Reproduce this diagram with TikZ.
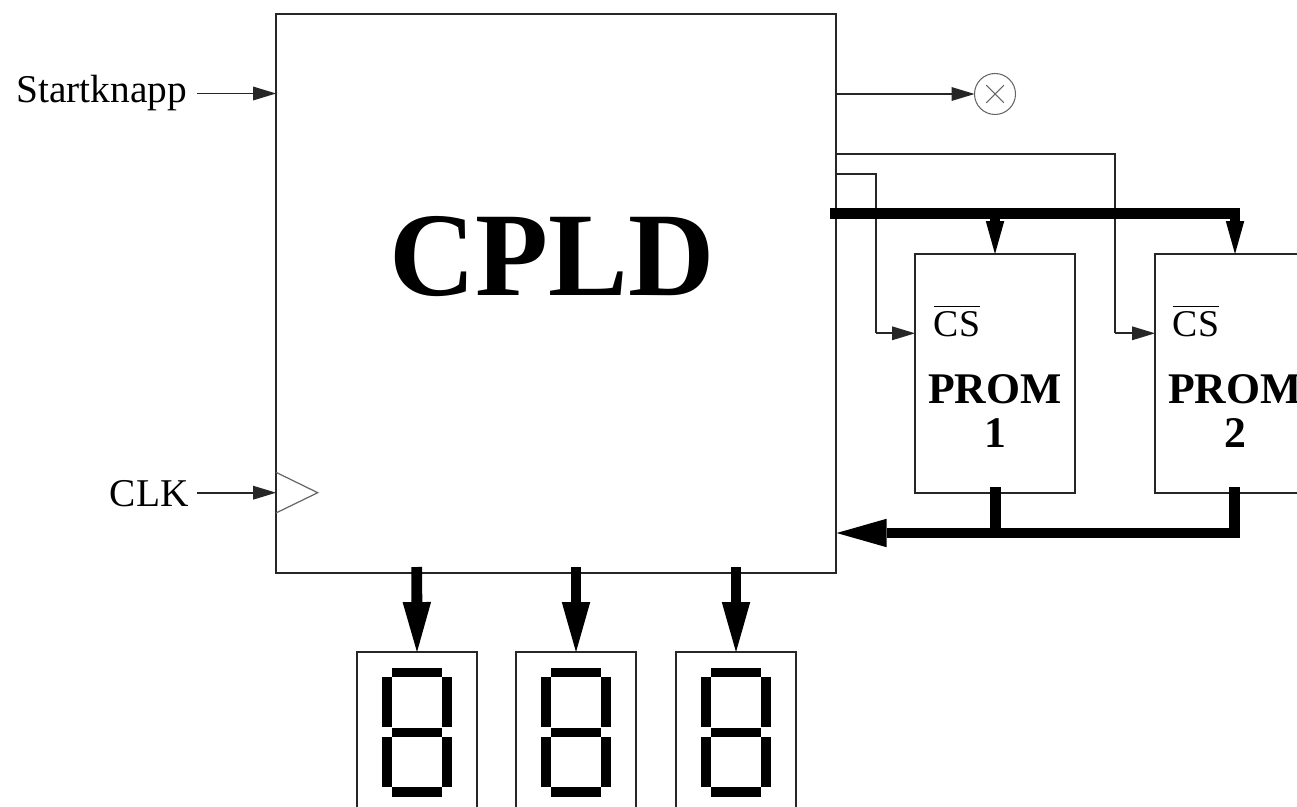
\documentclass[tikz,border=0pt]{standalone}
\usepackage{fontspec}
\setmainfont{Liberation Serif}
\usepackage{tikz}
\usetikzlibrary{arrows.meta,shapes.misc}
\tikzset{
  blk/.style={rectangle,draw=black!85,fill=none,inner sep=0pt,outer sep=0pt,line width=.85pt},
  cpld/.style={blk,minimum width=11.2cm,minimum height=11.18cm},
  prom/.style={blk,minimum width=3.2cm,minimum height=4.78cm},
  dsp/.style={blk,minimum width=2.4cm,minimum height=3.2cm},
  lamp/.style={circle,draw=black!60,inner sep=0pt,outer sep=0pt,minimum size=.82cm,line width=.6pt},
  lampx/.style={cross out,draw=black!60,inner sep=0pt,minimum size=.33cm,line width=.6pt},
  wire/.style={draw=black!85,line width=.95pt},
  sig/.style={-{Triangle[length=.46cm,width=.28cm,line width=0pt]},wire},
  busa/.style={-{Triangle[length=1cm,width=.57cm,line width=0pt]},draw=black,line width=6.2pt},
  busb/.style={-{Triangle[length=.66cm,width=.37cm,line width=0pt]},draw=black,line width=6.2pt},
  busc/.style={draw=black,line width=6.2pt},
  clkm/.style={draw=black!60,line width=.7pt},
  seg/.style={fill=black},
  lb/.style={font=\fontsize{22.4}{24}\selectfont,inner sep=0pt},
  lbcs/.style={font=\fontsize{21.5}{24}\selectfont,inner sep=0pt,anchor=base},
  lbp/.style={font=\bfseries\fontsize{24.9}{25.5}\selectfont,align=center,inner sep=0pt},
  lbc/.style={font=\bfseries\fontsize{68}{70}\selectfont,inner sep=0pt},
}
\begin{document}
\begin{tikzpicture}[x=.02cm,y=-.02cm]
\path[use as bounding box,clip] (0,0) rectangle (1297,807);
% ---- blocks
\node[cpld] (cpld) at (556,293.5) {};
\node[prom] (prom1) at (995,373.5) {};
\node[prom] (prom2) at (1235,373.5) {};
\node[lbc] (cpldlb) at (552,257) {CPLD};
% ---- texts of the memories
\node[lbcs] (cs1) at (957,337) {$\overline{\mbox{\rule{0pt}{16pt}CS}}$};
\node[lbcs] (cs2) at (1196,337) {$\overline{\mbox{\rule{0pt}{16pt}CS}}$};
\node[lbp] (prom1lb) at (995,411) {PROM\\1};
\node[lbp] (prom2lb) at (1235,411) {PROM\\2};
% ---- inputs
\node[lb,anchor=base west] (startlb) at (16,103) {Startknapp};
\node[lb,anchor=base east] (clklb) at (189,506) {CLK};
\coordinate (startin) at (197,93.5);
\coordinate (clkin) at (197,492.7);
\draw[sig] (startin) -- (startin -| cpld.west);
\draw[sig] (clkin) -- (clkin -| cpld.west);
\coordinate (clka) at (276,472.3);
\coordinate (clkb) at (317.7,492.7);
\coordinate (clkc) at (276,513);
\draw[clkm] (clka) -- (clkb) -- (clkc);
% ---- lamp
\node[lamp] (lamp) at (995,94) {};
\node[lampx] (lampc) at (lamp.center) {};
\draw[sig] (lamp -| cpld.east) -- (lamp.west);
% ---- chip selects
\coordinate (csa) at (1114.7,154.3);
\coordinate (csb) at (875.7,173.7);
\coordinate (csc) at (1155,333.3);
\coordinate (csd) at (915,333.3);
\draw[wire] (csa -| cpld.east) -- (csa) -- (csa |- csc);
\draw[wire] (csb -| cpld.east) -- (csb) -- (csb |- csd);
\draw[sig] (csa |- csc) -- (csc);
\draw[sig] (csb |- csd) -- (csd);
% ---- address bus
\coordinate (adr) at (830,213.8);
\draw[busb] (adr) -| (prom2.north);
\draw[busb] (adr -| prom1.north) -- (prom1.north);
% ---- data bus
\coordinate (dat1) at (995.5,487.3);
\coordinate (dat2) at (1234.6,487.3);
\coordinate (datin) at (836.7,533);
\draw[busa] (dat2) |- (datin);
\draw[busc] (dat1) -- (dat1 |- datin);
% ---- displays
\coordinate (drv1) at (416.7,567);
\coordinate (drv2) at (576,567);
\coordinate (drv3) at (736,567);
\foreach \i/\dx in {1/357,2/516,3/676}{
  \node[dsp] (disp\i) at (\dx+60,732) {};
  \draw[busa] (drv\i) -- (disp\i.north);
  \begin{scope}[shift={(\dx,0)}]
    \foreach \yy in {667.7,727.5,787}
      \fill[seg] (35,\yy) rectangle +(50,9.7);
    \foreach \xx in {25,85}
      \foreach \yy in {677.4,737.2}
        \fill[seg] (\xx,\yy) rectangle +(10,50);
  \end{scope}
}
\end{tikzpicture}
\end{document}
